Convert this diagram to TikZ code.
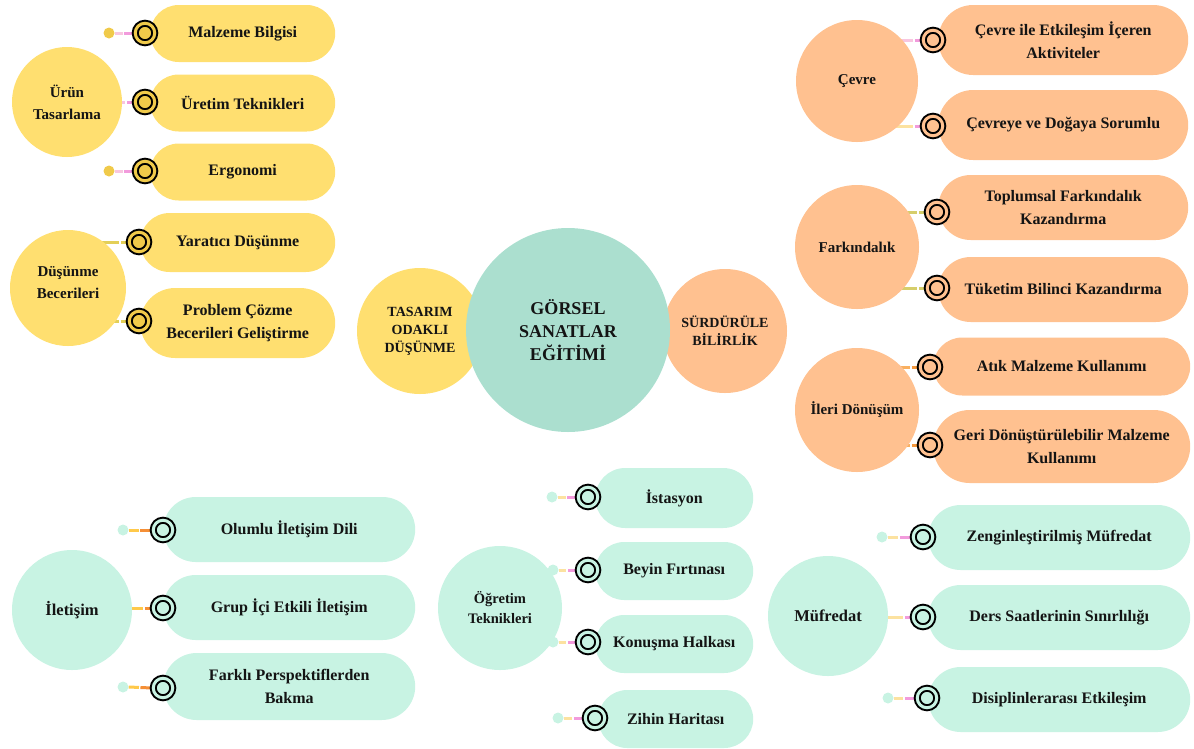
\documentclass[tikz,border=0pt]{standalone}
\usepackage{fontspec}
\setmainfont{Liberation Serif}
\usetikzlibrary{shapes.misc,calc,backgrounds}

% palette
\definecolor{ylw}{HTML}{FFDF70}
\definecolor{ylwdk}{HTML}{F0CA4A}
\definecolor{org}{HTML}{FFC190}
\definecolor{hubteal}{HTML}{ABDFCF}
\definecolor{mint}{HTML}{C8F3E3}
\definecolor{ink}{HTML}{141414}
% connector colours
\definecolor{pinkA}{HTML}{F8C6E0}
\definecolor{pinkB}{HTML}{F29BDC}
\definecolor{oliveA}{HTML}{E3CF57}
\definecolor{oliveB}{HTML}{D6CE6B}
\definecolor{orgA}{HTML}{F9B060}
\definecolor{orgB}{HTML}{F4993E}
\definecolor{yorA}{HTML}{FFC94A}
\definecolor{yorB}{HTML}{F58F36}
\definecolor{paleY}{HTML}{FCE2A0}

\tikzset{
  hub/.style={circle, inner sep=0pt, text=ink, align=center},
  topic/.style={hub, font=\fontsize{15}{22}\selectfont\bfseries},
  pill/.style={rounded rectangle, inner sep=0pt, text=ink, align=center,
               font=\fontsize{16}{23}\selectfont\bfseries, anchor=west},
  icon/.style={circle, inner sep=0pt, minimum size=19.5pt, line width=2pt,
               draw=black, double distance=3pt, double=#1, fill=#1},
  dotnode/.style={circle, inner sep=0pt, minimum size=11pt, fill=#1},
  link/.style={line width=3pt}
}

% dot -> icon connector in two colours
\newcommand\duolink[4]{%
  \coordinate (#1-#2-m) at ($(#1.east)!0.5!(#2.west)$);
  \draw[link,#3,shorten >=1.5pt] (#1.east) -- (#1-#2-m);
  \draw[link,#4] (#1-#2-m) -- (#2.west);
}
% circle -> icon connector (drawn behind the circle)
\newcommand\hublink[4]{%
  \draw[link,#3] (#2.west -| #1.center) -- ([xshift=-9pt]#2.west);
  \draw[link,#4] ([xshift=-7.5pt]#2.west) -- (#2.west);
}

\begin{document}
\begin{tikzpicture}[x=1pt,y=-1pt]
\useasboundingbox (0,0) rectangle (1194,748);

% ---------- centre ----------
\node[hub, fill=ylw, minimum size=126pt, font=\fontsize{14}{18}\selectfont\bfseries] (tas) at (420,331) {TASARIM\\ODAKLI\\DÜŞÜNME};
\node[hub, fill=org, minimum size=124pt, font=\fontsize{14}{18}\selectfont\bfseries] (sur) at (725,331) {SÜRDÜRÜLE\\BİLİRLİK};
\node[hub, fill=hubteal, minimum size=204pt, font=\fontsize{18}{23}\selectfont\bfseries] (gse) at (568,330) {GÖRSEL\\SANATLAR\\EĞİTİMİ};

% ---------- Ürün Tasarlama ----------
\node[topic, fill=ylw, minimum size=110pt] (c1) at (67,102) {Ürün\\Tasarlama};
\node[pill, fill=ylw, minimum width=185pt, minimum height=57pt] (p11) at (150,33.5) {Malzeme Bilgisi};
\node[pill, fill=ylw, minimum width=185pt, minimum height=57pt] (p12) at (150,103) {Üretim Teknikleri};
\node[pill, fill=ylw, minimum width=185pt, minimum height=57pt] (p13) at (150,172) {Ergonomi};
\node[icon=ylwdk] (i11) at (145,33) {};
\node[icon=ylwdk] (i12) at (145,102) {};
\node[icon=ylwdk] (i13) at (145,171) {};
\node[dotnode=ylwdk] (d11) at (109,33) {};
\node[dotnode=ylwdk] (d13) at (109,171) {};

% ---------- Düşünme Becerileri ----------
\node[topic, fill=ylw, minimum size=116pt] (c2) at (68,288) {};
\node[topic] (c2t) at (68,283) {Düşünme\\Becerileri};
\node[pill, fill=ylw, minimum width=195pt, minimum height=59pt] (p21) at (140,242.5) {Yaratıcı Düşünme};
\node[pill, fill=ylw, minimum width=195pt, minimum height=70pt] (p22) at (140,323) {Problem Çözme\\Becerileri Geliştirme};
\node[icon=ylwdk] (i21) at (139,242) {};
\node[icon=ylwdk] (i22) at (139,321) {};

% ---------- Çevre ----------
\node[topic, fill=org, minimum size=122pt] (c3) at (857,81) {Çevre};
\node[pill, fill=org, minimum width=250pt, minimum height=70pt] (p31) at (938,40) {Çevre ile Etkileşim İçeren\\Aktiviteler};
\node[pill, fill=org, minimum width=250pt, minimum height=70pt] (p32) at (938,125) {Çevreye ve Doğaya Sorumlu};
\node[icon=org] (i31) at (933,40) {};
\node[icon=org] (i32) at (933,126) {};

% ---------- Farkındalık ----------
\node[topic, fill=org, minimum size=124pt] (c4) at (857,247) {Farkındalık};
\node[pill, fill=org, minimum width=250pt, minimum height=65pt] (p41) at (938,207.5) {Toplumsal Farkındalık\\Kazandırma};
\node[pill, fill=org, minimum width=250pt, minimum height=65pt] (p42) at (938,289.5) {Tüketim Bilinci Kazandırma};
\node[icon=org] (i41) at (937,212) {};
\node[icon=org] (i42) at (937,288) {};

% ---------- İleri Dönüşüm ----------
\node[topic, fill=org, minimum size=124pt] (c5) at (857,410) {İleri Dönüşüm};
\node[pill, fill=org, minimum width=257pt, minimum height=58pt] (p51) at (933,366.5) {Atık Malzeme Kullanımı};
\node[pill, fill=org, minimum width=257pt, minimum height=73pt] (p52) at (933,446.5) {Geri Dönüştürülebilir Malzeme\\Kullanımı};
\node[icon=org] (i51) at (930,367) {};
\node[icon=org] (i52) at (930,445) {};

% ---------- İletişim ----------
\node[hub, fill=mint, minimum size=120pt, font=\fontsize{16.5}{22}\selectfont\bfseries] (c6) at (72,610) {İletişim};
\node[pill, fill=mint, minimum width=252pt, minimum height=65pt] (p61) at (163,529.5) {Olumlu İletişim Dili};
\node[pill, fill=mint, minimum width=252pt, minimum height=65pt] (p62) at (163,607.5) {Grup İçi Etkili İletişim};
\node[pill, fill=mint, minimum width=252pt, minimum height=67pt] (p63) at (163,686.5) {Farklı Perspektiflerden\\Bakma};
\node[icon=mint] (i61) at (163,530) {};
\node[icon=mint] (i62) at (163,608) {};
\node[icon=mint] (i63) at (163,688) {};
\node[dotnode=mint] (d61) at (123,530) {};
\node[dotnode=mint] (d63) at (123,687) {};

% ---------- Öğretim Teknikleri ----------
\node[hub, fill=mint, minimum size=124pt, font=\fontsize{14.5}{20}\selectfont\bfseries] (c7) at (500,608) {Öğretim\\Teknikleri};
\node[pill, fill=mint, minimum width=158pt, minimum height=60pt] (p71) at (595,498) {İstasyon};
\node[pill, fill=mint, minimum width=158pt, minimum height=58pt] (p72) at (595,571) {Beyin Fırtınası};
\node[pill, fill=mint, minimum width=158pt, minimum height=58pt] (p73) at (595,644) {Konuşma Halkası};
\node[pill, fill=mint, minimum width=155pt, minimum height=58pt] (p74) at (598,719) {Zihin Haritası};
\node[icon=mint] (i71) at (588,497) {};
\node[icon=mint] (i72) at (588,570) {};
\node[icon=mint] (i73) at (588,642) {};
\node[icon=mint] (i74) at (595,718) {};
\node[dotnode=mint] (d71) at (552,497) {};
\node[dotnode=mint] (d72) at (553,570) {};
\node[dotnode=mint] (d73) at (553,642) {};
\node[dotnode=mint] (d74) at (558,718) {};

% ---------- Müfredat ----------
\node[hub, fill=mint, minimum size=120pt, font=\fontsize{16.5}{22}\selectfont\bfseries] (c8) at (828,616) {Müfredat};
\node[pill, fill=mint, minimum width=262pt, minimum height=65pt] (p81) at (928,537.5) {Zenginleştirilmiş Müfredat};
\node[pill, fill=mint, minimum width=262pt, minimum height=65pt] (p82) at (928,617.5) {Ders Saatlerinin Sınırlılığı};
\node[pill, fill=mint, minimum width=262pt, minimum height=65pt] (p83) at (928,699.5) {Disiplinlerarası Etkileşim};
\node[icon=mint] (i81) at (923,537) {};
\node[icon=mint] (i82) at (923,617) {};
\node[icon=mint] (i83) at (927,698) {};
\node[dotnode=mint] (d81) at (882,537) {};
\node[dotnode=mint] (d83) at (888,698) {};

% ---------- connectors ----------
\begin{scope}[on background layer]
  \duolink{d11}{i11}{pinkA}{pinkB}
  \hublink{c1}{i12}{pinkA}{pinkB}
  \duolink{d13}{i13}{pinkA}{pinkB}

  \hublink{c2}{i21}{oliveA}{oliveA}
  \hublink{c2}{i22}{oliveA}{oliveA}

  \hublink{c3}{i31}{pinkA}{pinkB}
  \hublink{c3}{i32}{paleY}{pinkB}

  \hublink{c4}{i41}{oliveB}{oliveB}
  \hublink{c4}{i42}{oliveB}{oliveB}

  \hublink{c5}{i51}{orgA}{orgB}
  \hublink{c5}{i52}{orgA}{orgB}

  \duolink{d61}{i61}{yorA}{yorB}
  \hublink{c6}{i62}{yorA}{yorB}
  \duolink{d63}{i63}{yorA}{yorB}

  \duolink{d71}{i71}{paleY}{pinkB}
  \duolink{d72}{i72}{paleY}{pinkB}
  \duolink{d73}{i73}{paleY}{pinkB}
  \duolink{d74}{i74}{paleY}{pinkB}

  \duolink{d81}{i81}{paleY}{pinkB}
  \hublink{c8}{i82}{paleY}{pinkB}
  \duolink{d83}{i83}{paleY}{pinkB}
\end{scope}
\end{tikzpicture}
\end{document}
